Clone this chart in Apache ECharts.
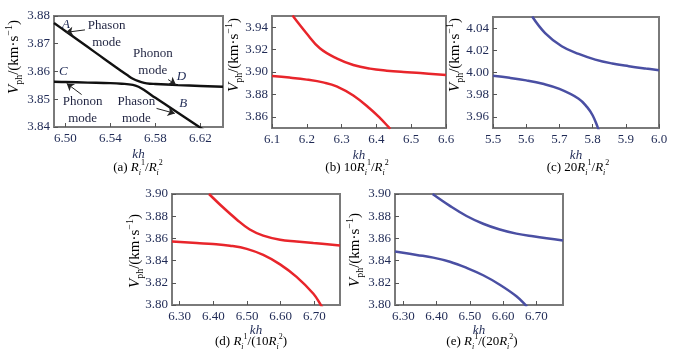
<!DOCTYPE html>
<html>
<head>
<meta charset="utf-8">
<script src="https://cdn.jsdelivr.net/npm/echarts@6/dist/echarts.min.js"></script>
<style>html,body{margin:0;padding:0;background:#fff;}#c{width:678px;height:362px;}</style>
</head>
<body>
<div id="c"></div>
<script>
// ---- Panel (a) R1/R2 ----
var a_kh_upper = [6.49, 6.50, 6.51, 6.52, 6.53, 6.54, 6.55, 6.555, 6.56, 6.565, 6.57, 6.575, 6.58, 6.60, 6.62, 6.64];
var a_v_upper  = [3.8775, 3.8746, 3.8717, 3.8688, 3.8659, 3.8630, 3.8601, 3.8587, 3.8574, 3.8565, 3.8559, 3.8556, 3.8555, 3.8551, 3.8548, 3.8545];
var a_kh_lower = [6.49, 6.50, 6.52, 6.54, 6.55, 6.56, 6.565, 6.57, 6.58, 6.59, 6.60, 6.61, 6.62, 6.625];
var a_v_lower  = [3.8563, 3.8562, 3.8560, 3.8558, 3.8556, 3.8552, 3.8545, 3.8533, 3.8505, 3.8478, 3.8451, 3.8424, 3.8397, 3.8384];
// ---- Panel (b) 10R1/R2 ----
var b_kh_upper = [6.159, 6.199, 6.2375, 6.2856, 6.3337, 6.3817, 6.4298, 6.4779, 6.526, 6.6];
var b_v_upper  = [3.9504, 3.9346, 3.9212, 3.9122, 3.9063, 3.9030, 3.9012, 3.9000, 3.8991, 3.8973];
var b_kh_lower = [6.1, 6.15, 6.2, 6.25, 6.2856, 6.3337, 6.3817, 6.41, 6.4346, 6.44];
var b_v_lower  = [3.8964, 3.8950, 3.8932, 3.8905, 3.8872, 3.8790, 3.8672, 3.8590, 3.8510, 3.8492];
// ---- Panel (c) 20R1/R2 ----
var c_kh_upper = [5.618, 5.657, 5.707, 5.758, 5.808, 5.859, 5.909, 5.960, 6.0];
var c_v_upper  = [4.0504, 4.0355, 4.0236, 4.0167, 4.0116, 4.0081, 4.0057, 4.0036, 4.0021];
var c_kh_lower = [5.5, 5.55, 5.60, 5.65, 5.70, 5.758, 5.783, 5.80, 5.815, 5.82];
var c_v_lower  = [3.9970, 3.9952, 3.9929, 3.9898, 3.9852, 3.9764, 3.9690, 3.9615, 3.9510, 3.9470];
// ---- Panel (d) R1/(10R2) ----
var d_kh_upper = [6.387, 6.429, 6.469, 6.508, 6.548, 6.598, 6.647, 6.697, 6.776];
var d_v_upper  = [3.9000, 3.8878, 3.8771, 3.8680, 3.8625, 3.8588, 3.8573, 3.8558, 3.8537];
var d_kh_lower = [6.277, 6.35, 6.399, 6.449, 6.499, 6.548, 6.598, 6.647, 6.697, 6.719, 6.725];
var d_v_lower  = [3.8573, 3.8558, 3.8549, 3.8534, 3.8506, 3.8451, 3.8366, 3.8253, 3.8101, 3.8000, 3.7970];
// ---- Panel (e) R1/(20R2) ----
var e_kh_upper = [6.388, 6.44, 6.49, 6.54, 6.59, 6.64, 6.69, 6.78];
var e_v_upper  = [3.9000, 3.8893, 3.8802, 3.8732, 3.8680, 3.8643, 3.8619, 3.8582];
var e_kh_lower = [6.275, 6.34, 6.39, 6.44, 6.49, 6.54, 6.59, 6.64, 6.667, 6.672];
var e_v_lower  = [3.8482, 3.8451, 3.8427, 3.8390, 3.8335, 3.8268, 3.8183, 3.8079, 3.8000, 3.7985];

// tick labels
var a_xticks = [6.50, 6.54, 6.58, 6.62];
var a_yticks = [3.84, 3.85, 3.86, 3.87, 3.88];
var b_xticks = [6.1, 6.2, 6.3, 6.4, 6.5, 6.6];
var b_yticks = [3.86, 3.88, 3.90, 3.92, 3.94];
var c_xticks = [5.5, 5.6, 5.7, 5.8, 5.9, 6.0];
var c_yticks = [3.96, 3.98, 4.00, 4.02, 4.04];
var de_xticks = [6.30, 6.40, 6.50, 6.60, 6.70];
var de_yticks = [3.80, 3.82, 3.84, 3.86, 3.88, 3.90];

// annotations for panel (a), in data coordinates
var a_notes = [
  {text: 'Phason\nmode', at: [6.5367, 3.8734]},
  {text: 'Phonon\nmode', at: [6.5777, 3.8635]},
  {text: 'Phonon\nmode', at: [6.5154, 3.8462]},
  {text: 'Phason\nmode', at: [6.5631, 3.8461]}
];
var a_letters = [
  {text: 'A', at: [6.5006, 3.8770]},
  {text: 'D', at: [6.6031, 3.8581]},
  {text: 'C', at: [6.4982, 3.8599]},
  {text: 'B', at: [6.6046, 3.8483]}
];
var a_arrows = [
  [[6.5175, 3.8750], [6.5006, 3.8741]],
  [[6.5913, 3.8571], [6.5981, 3.8553]],
  [[6.5145, 3.8517], [6.5013, 3.8557]],
  [[6.5810, 3.8467], [6.5972, 3.8449]]
];

function zip(xs, ys) { return xs.map(function (x, i) { return [x, ys[i]]; }); }

var SERIF = '"Liberation Serif", "DejaVu Serif", serif';
var TICKC = '#1f2a55';
var FRAME = '#7a7a7a';
var RED = '#e8252b';
var BLUE = '#4a4fa3';

var grids = [
  {left: 54, top: 16, width: 169, height: 111},
  {left: 272, top: 16, width: 174, height: 112},
  {left: 493, top: 17, width: 166, height: 111},
  {left: 172, top: 194, width: 168, height: 111},
  {left: 395, top: 194, width: 168, height: 111}
].map(function (g) {
  return Object.assign({show: true, borderColor: FRAME, borderWidth: 2, backgroundColor: 'transparent'}, g);
});

function xAxis(i, min, max, ticks, dec, gap) {
  return {
    type: 'value', gridIndex: i, min: min, max: max,
    name: 'kh', nameLocation: 'middle', nameGap: gap,
    nameTextStyle: {fontFamily: SERIF, fontStyle: 'italic', fontSize: 13, color: TICKC},
    axisLine: {show: true, lineStyle: {color: FRAME, width: 2}},
    axisTick: {show: true, inside: true, length: 4, customValues: ticks, lineStyle: {color: '#555', width: 1}},
    axisLabel: {customValues: ticks, margin: 5, fontFamily: SERIF, fontSize: 13, color: TICKC,
      formatter: function (v) { return v.toFixed(dec); }},
    splitLine: {show: false}
  };
}
function yAxis(i, min, max, ticks, dec) {
  return {
    type: 'value', gridIndex: i, min: min, max: max,
    axisLine: {show: true, lineStyle: {color: FRAME, width: 2}},
    axisTick: {show: true, inside: true, length: 4, customValues: ticks, lineStyle: {color: '#555', width: 1}},
    axisLabel: {customValues: ticks, margin: 4, fontFamily: SERIF, fontSize: 13, color: TICKC,
      formatter: function (v) { return v.toFixed(dec); }},
    splitLine: {show: false}
  };
}

function line(i, xs, ys, color, w) {
  return {
    type: 'line', xAxisIndex: i, yAxisIndex: i, data: zip(xs, ys),
    showSymbol: false, smooth: 0.4, clip: true, silent: true,
    lineStyle: {color: color, width: w}
  };
}

var noteLabel = {show: true, position: 'inside', formatter: '{b}', fontFamily: SERIF, fontSize: 13, lineHeight: 17, color: '#1f2340'};
var letterLabel = {show: true, position: 'inside', formatter: '{b}', fontFamily: SERIF, fontStyle: 'italic', fontSize: 13, color: '#1f2a55'};

var sA = line(0, a_kh_upper, a_v_upper, '#111', 2.4);
sA.markPoint = {
  silent: true, animation: false,
  data: a_notes.map(function (n) { return {name: n.text, coord: n.at, symbol: 'circle', symbolSize: 0, label: noteLabel}; })
    .concat(a_letters.map(function (n) { return {name: n.text, coord: n.at, symbol: 'circle', symbolSize: 0, label: letterLabel}; }))
};
sA.markLine = {
  silent: true, animation: false, symbol: ['none', 'arrow'], symbolSize: 7,
  label: {show: false}, lineStyle: {color: '#222', width: 1, type: 'solid'},
  data: a_arrows.map(function (p) { return [{coord: p[0]}, {coord: p[1]}]; })
};

var captions = [
  {x: 138, y: 168, t: '{n|(a) }{it|R}{s|i}{p|1}{n|/}{it|R}{s|i}{p|2}'},
  {x: 357, y: 168, t: '{n|(b) 10}{it|R}{s|i}{p|1}{n|/}{it|R}{s|i}{p|2}'},
  {x: 578, y: 168, t: '{n|(c) 20}{it|R}{s|i}{p|1}{n|/}{it|R}{s|i}{p|2}'},
  {x: 251, y: 342, t: '{n|(d) }{it|R}{s|i}{p|1}{n|/(10}{it|R}{s|i}{p|2}{n|)}'},
  {x: 482, y: 342, t: '{n|(e) }{it|R}{s|i}{p|1}{n|/(20}{it|R}{s|i}{p|2}{n|)}'}
];
var capRich = {
  n: {fontFamily: SERIF, fontSize: 13, color: '#222', lineHeight: 18, verticalAlign: 'middle'},
  it: {fontFamily: SERIF, fontStyle: 'italic', fontSize: 13, color: '#222', lineHeight: 18, verticalAlign: 'middle'},
  s: {fontFamily: SERIF, fontStyle: 'italic', fontSize: 8, color: '#222', lineHeight: 18, verticalAlign: 'bottom'},
  p: {fontFamily: SERIF, fontSize: 8, color: '#222', lineHeight: 18, verticalAlign: 'top'}
};

var yName = '{it|V}{sub|ph}{n|/(km·s}{sup|−1}{n|)}';
var yNameRich = {
  it: {fontFamily: SERIF, fontStyle: 'italic', fontSize: 15, color: '#222', lineHeight: 20, verticalAlign: 'middle'},
  n: {fontFamily: SERIF, fontSize: 15, color: '#222', lineHeight: 20, verticalAlign: 'middle'},
  sub: {fontFamily: SERIF, fontSize: 10, color: '#222', lineHeight: 20, verticalAlign: 'bottom'},
  sup: {fontFamily: SERIF, fontSize: 10, color: '#222', lineHeight: 20, verticalAlign: 'top'}
};
var yNamePos = [[14, 57], [234, 55], [455, 55], [135, 251], [355, 250]];

var graphics = captions.map(function (c) {
  return {type: 'text', x: c.x, y: c.y, silent: true,
    style: {text: c.t, rich: capRich, align: 'center', verticalAlign: 'middle'}};
}).concat(yNamePos.map(function (p) {
  return {type: 'text', x: p[0], y: p[1], rotation: Math.PI / 2, silent: true,
    style: {text: yName, rich: yNameRich, align: 'center', verticalAlign: 'middle'}};
}));

var option = {
  animation: false,
  backgroundColor: '#fff',
  grid: grids,
  xAxis: [
    xAxis(0, 6.49, 6.64, a_xticks, 2, 21),
    xAxis(1, 6.1, 6.6, b_xticks, 1, 21),
    xAxis(2, 5.5, 6.0, c_xticks, 1, 21),
    xAxis(3, 6.277, 6.776, de_xticks, 2, 19),
    xAxis(4, 6.275, 6.78, de_xticks, 2, 19)
  ],
  yAxis: [
    yAxis(0, 3.84, 3.88, a_yticks, 2),
    yAxis(1, 3.85, 3.95, b_yticks, 2),
    yAxis(2, 3.95, 4.05, c_yticks, 2),
    yAxis(3, 3.80, 3.90, de_yticks, 2),
    yAxis(4, 3.80, 3.90, de_yticks, 2)
  ],
  series: [
    sA,
    line(0, a_kh_lower, a_v_lower, '#111', 2.4),
    line(1, b_kh_upper, b_v_upper, RED, 2.5),
    line(1, b_kh_lower, b_v_lower, RED, 2.5),
    line(2, c_kh_upper, c_v_upper, BLUE, 2.5),
    line(2, c_kh_lower, c_v_lower, BLUE, 2.5),
    line(3, d_kh_upper, d_v_upper, RED, 2.5),
    line(3, d_kh_lower, d_v_lower, RED, 2.5),
    line(4, e_kh_upper, e_v_upper, BLUE, 2.5),
    line(4, e_kh_lower, e_v_lower, BLUE, 2.5)
  ],
  graphic: graphics
};

var chart = echarts.init(document.getElementById('c'), null, {renderer: 'canvas'});
chart.setOption(option);
</script>
</body>
</html>
